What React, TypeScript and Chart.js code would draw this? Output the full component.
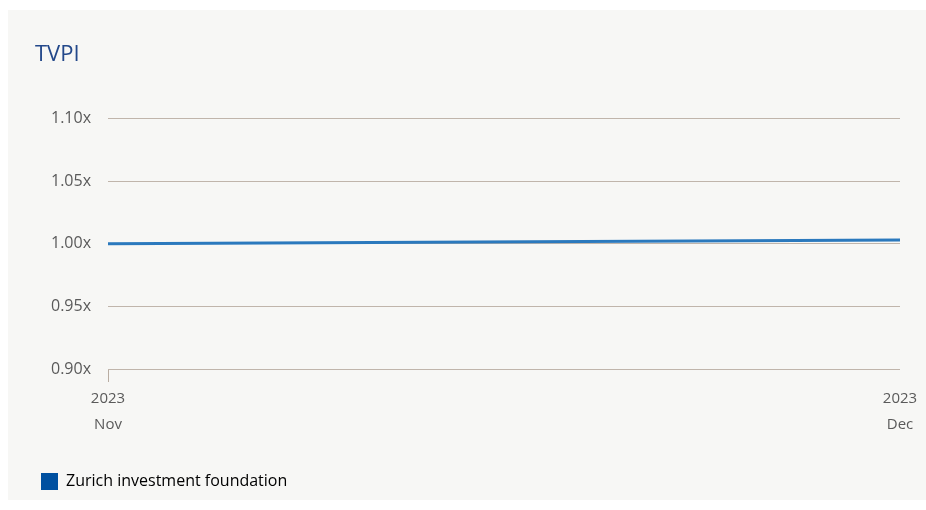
import React, { useEffect, useRef } from "react";
import { Chart, registerables } from "chart.js";

Chart.register(...registerables);

const categories: string[][] = [["2023", "Nov"], ["2023", "Dec"]];
const seriesName = "Zurich investment foundation";
const tvpiValues: number[] = [1.0, 1.003];
const yMin = 0.9;
const yMax = 1.1;
const yStep = 0.05;

const FONT = "'Open Sans', 'Noto Sans', sans-serif";

export default function App() {
  const ref = useRef<HTMLCanvasElement | null>(null);
  useEffect(() => {
    if (!ref.current) return;
    const chart = new Chart(ref.current, {
      type: "line",
      data: {
        labels: categories,
        datasets: [
          {
            label: seriesName,
            data: tvpiValues,
            borderColor: "#2b79bd",
            backgroundColor: "#0050a0",
            borderWidth: 3,
            pointRadius: 0,
            tension: 0,
          },
        ],
      },
      options: {
        responsive: false,
        animation: false,
        maintainAspectRatio: false,
        layout: { padding: { left: 27, right: 26, top: 0, bottom: 0 } },
        plugins: {
          tooltip: { enabled: false },
          title: {
            display: true,
            text: "TVPI",
            align: "start",
            color: "#23488a",
            font: { family: FONT, size: 22, weight: "normal" },
            padding: { top: 32, bottom: 50 },
          },
          legend: {
            position: "bottom",
            align: "start",
            labels: {
              boxWidth: 17,
              boxHeight: 17,
              padding: 6,
              color: "#5a5a5a",
              font: { family: FONT, size: 16, weight: "normal" },
              generateLabels: () => [
                {
                  text: seriesName,
                  fillStyle: "#0050a0",
                  strokeStyle: "#0050a0",
                  lineWidth: 0,
                  hidden: false,
                  datasetIndex: 0,
                },
              ],
            },
          },
        },
        scales: {
          x: {
            offset: false,
            border: { display: false },
            afterFit: (scale: any) => {
              scale.height = 98;
            },
            grid: {
              drawOnChartArea: false,
              drawTicks: true,
              tickLength: 13,
              color: (ctx: any) => (ctx.index === 0 ? "#b9ada2" : "rgba(0,0,0,0)"),
            },
            ticks: {
              color: "#5a5a5a",
              font: { family: FONT, size: 15, weight: "normal", lineHeight: 1.7 },
              padding: 4,
              maxRotation: 0,
              autoSkip: false,
            },
          },
          y: {
            min: yMin,
            max: yMax,
            border: { display: false },
            afterFit: (scale: any) => {
              scale.width = 73;
            },
            grid: {
              drawTicks: false,
              color: "#c0b5ab",
              lineWidth: 1,
            },
            ticks: {
              stepSize: yStep,
              padding: 17,
              color: "#5a5a5a",
              font: { family: FONT, size: 16, weight: "normal" },
              callback: (v: any) => Number(v).toFixed(2) + "x",
            },
          },
        },
      },
    });
    return () => chart.destroy();
  }, []);
  return (
    <div
      style={{
        position: "absolute",
        left: 8,
        top: 10,
        width: 918,
        height: 490,
        background: "#f7f7f5",
      }}
    >
      <canvas ref={ref} width={918} height={490} style={{ display: "block" }} />
    </div>
  );
}
